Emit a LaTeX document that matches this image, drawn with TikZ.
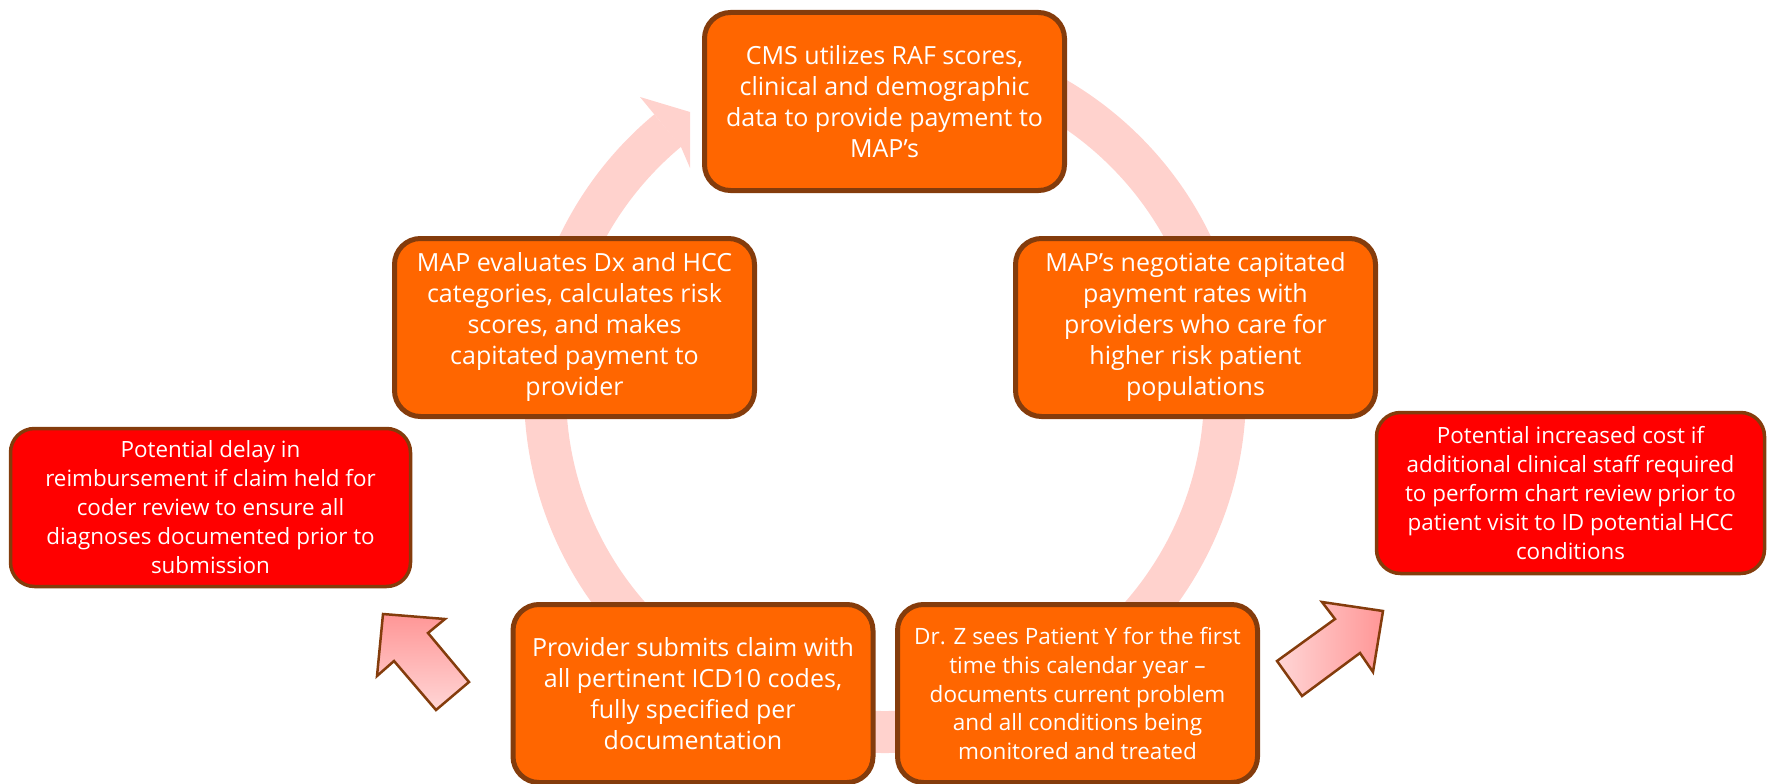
\documentclass[tikz,border=0pt]{standalone}
\usepackage{fontspec}
\setmainfont{Open Sans}
\definecolor{brownline}{RGB}{132,60,12}
\definecolor{orangefill}{RGB}{255,102,0}
\definecolor{redfill}{RGB}{255,0,0}
\definecolor{ringpink}{RGB}{255,210,205}
\definecolor{pinklight}{RGB}{255,214,214}
\definecolor{pinkdark}{RGB}{255,150,150}
\begin{document}
\begin{tikzpicture}[x=1pt,y=-1pt,
  obox/.style={draw=brownline, line width=5pt, fill=orangefill, rounded corners=26pt,
    text=white, align=center, minimum width=360pt, minimum height=178pt, inner sep=3pt,
    font=\fontsize{25}{31}\selectfont},
  smalltext/.style={font=\fontsize{22.5}{28.7}\selectfont},
  rbox/.style={draw=brownline, line width=3.5pt, fill=redfill, rounded corners=24pt,
    text=white, align=center, inner sep=3pt, font=\fontsize{22.4}{29}\selectfont},
  ring/.style={draw=ringpink, line width=42pt},
  ringhead/.style={fill=ringpink},
  blockarrow/.style={draw=brownline, line width=2.5pt, line join=miter}]
\useasboundingbox (0,0) rectangle (1769,784);

% circular arrow behind the cycle
\draw[ring] ([shift={(885,392)}]95:340pt) arc[start angle=95, end angle=-230.3, radius=340pt];
\fill[ringhead] (654,114) -- (640,97) -- (690,112) -- (690,168) -- (681,147) -- cycle;

% cycle steps
\node[obox] (cms) at (884.5,101.5) {CMS utilizes RAF scores,\\clinical and demographic\\data to provide payment to\\MAP’s};
\node[obox] (nego) at (1195.5,327.5) {MAP’s negotiate capitated\\payment rates with\\providers who care for\\higher risk patient\\populations};
\node[obox, smalltext] (drz) at (1077.5,693.5) {Dr. Z sees Patient Y for the first\\time this calendar year –\\documents current problem\\and all conditions being\\monitored and treated};
\node[obox] (prov) at (693,693.5) {Provider submits claim with\\all pertinent ICD10 codes,\\fully specified per\\documentation};
\node[obox] (eval) at (574.5,327.5) {MAP evaluates Dx and HCC\\categories, calculates risk\\scores, and makes\\capitated payment to\\provider};

% side effects
\node[rbox, minimum width=400pt, minimum height=158pt] (delay) at (210.5,507.5) {Potential delay in\\reimbursement if claim held for\\coder review to ensure all\\diagnoses documented prior to\\submission};
\node[rbox, minimum width=388pt, minimum height=161pt] (cost) at (1570.5,493) {Potential increased cost if\\additional clinical staff required\\to perform chart review prior to\\patient visit to ID potential HCC\\conditions};

% block arrows pointing to the side effects
\draw[blockarrow, top color=pinkdark, bottom color=pinklight]
  (383,614) -- (445,619) -- (428,633) -- (469,682) -- (436,710) -- (394,661) -- (377,676) -- cycle;
\draw[blockarrow, left color=pinklight, right color=pinkdark]
  (1383,611) -- (1373,672) -- (1360,653) -- (1302,696) -- (1277,661) -- (1335,619) -- (1322,602) -- cycle;
\end{tikzpicture}
\end{document}
